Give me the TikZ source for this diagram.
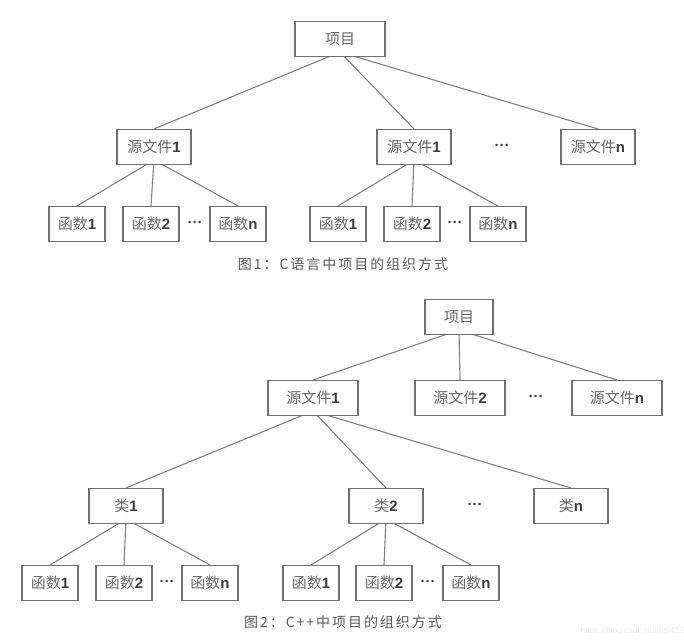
\documentclass[tikz,border=0pt]{standalone}
\usepackage{fontspec}
\setmainfont{Liberation Sans}
\newfontfamily\cjk{Noto Sans CJK SC}
\newfontfamily\capfont[LetterSpace=14]{Noto Sans CJK SC}
\usetikzlibrary{backgrounds}
\definecolor{boxgray}{HTML}{707070}
\definecolor{linegray}{HTML}{808080}
\definecolor{txtgray}{HTML}{3C3C3C}
\definecolor{cjkgray}{HTML}{666666}
\newcommand{\zh}[1]{{\cjk\mdseries\color{cjkgray}#1}}
\begin{document}
\begin{tikzpicture}[x=1pt,y=-1pt,
  box/.style={draw=boxgray,fill=white,line width=1.1pt,minimum height=35pt,inner sep=0pt,text=txtgray,font=\fontsize{15}{15}\selectfont\bfseries},
  src/.style={box,minimum width=74pt},
  cls/.style={box,minimum width=74pt},
  fn/.style={box,minimum width=56pt},
  dots/.style={text=txtgray,font=\fontsize{15}{15}\selectfont\bfseries},
  link/.style={draw=linegray,line width=1.1pt},
  caption/.style={text=txtgray!85,font=\capfont\fontsize{14}{14}\selectfont}]
\useasboundingbox (0,0) rectangle (684,642);
\node[box,minimum width=90pt] (p1) at (340,39) {\zh{项目}};
\node[src] (s1a) at (154,147) {\zh{源文件}1};
\node[src] (s1b) at (414,147) {\zh{源文件}1};
\node[dots] (d1) at (502,147) {···};
\node[src] (s1n) at (598,147) {\zh{源文件}n};
\node[fn] (f1a1) at (77,224) {\zh{函数}1};
\node[fn] (f1a2) at (151,224) {\zh{函数}2};
\node[dots] (d1a) at (195,224) {···};
\node[fn] (f1an) at (238,224) {\zh{函数}n};
\node[fn] (f1b1) at (338,224) {\zh{函数}1};
\node[fn] (f1b2) at (412,224) {\zh{函数}2};
\node[dots] (d1b) at (455,224) {···};
\node[fn] (f1bn) at (498,224) {\zh{函数}n};
\node[caption] (cap1) at (343,264) {图1：C语言中项目的组织方式};
\node[box,minimum width=68pt] (p2) at (459,317) {\zh{项目}};
\node[box,minimum width=90pt] (s2a) at (313,398) {\zh{源文件}1};
\node[box,minimum width=90pt] (s2b) at (460,398) {\zh{源文件}2};
\node[dots] (d2) at (536,398) {···};
\node[box,minimum width=90pt] (s2n) at (617,398) {\zh{源文件}n};
\node[cls] (c2a) at (126,506) {\zh{类}1};
\node[cls] (c2b) at (386,506) {\zh{类}2};
\node[dots] (d2c) at (475,506) {···};
\node[cls] (c2n) at (571,506) {\zh{类}n};
\node[fn] (f2a1) at (50,583) {\zh{函数}1};
\node[fn] (f2a2) at (124,583) {\zh{函数}2};
\node[dots] (d2a) at (167,583) {···};
\node[fn] (f2an) at (210,583) {\zh{函数}n};
\node[fn] (f2b1) at (311,583) {\zh{函数}1};
\node[fn] (f2b2) at (384,583) {\zh{函数}2};
\node[dots] (d2b) at (428,583) {···};
\node[fn] (f2bn) at (471,583) {\zh{函数}n};
\node[caption] (cap2) at (343,622) {图2：C++中项目的组织方式};
\node[anchor=west,text=black!8,font=\fontsize{8.5}{8.5}\selectfont] (mark) at (577,631) {https://blog.csdn.net/hsl416};
\begin{scope}[on background layer]
\draw[link] ([yshift=5pt]p1.south) -- (s1a.north) ([yshift=5pt]p1.south) -- (s1b.north) ([yshift=5pt]p1.south) -- (s1n.north);
\draw[link] ([yshift=5pt]s1a.south) -- (f1a1.north) ([yshift=5pt]s1a.south) -- (f1a2.north) ([yshift=5pt]s1a.south) -- (f1an.north);
\draw[link] ([yshift=5pt]s1b.south) -- (f1b1.north) ([yshift=5pt]s1b.south) -- (f1b2.north) ([yshift=5pt]s1b.south) -- (f1bn.north);
\draw[link] ([yshift=5pt]p2.south) -- (s2a.north) ([yshift=5pt]p2.south) -- (s2b.north) ([yshift=5pt]p2.south) -- (s2n.north);
\draw[link] ([yshift=5pt]s2a.south) -- (c2a.north) ([yshift=5pt]s2a.south) -- (c2b.north) ([yshift=5pt]s2a.south) -- (c2n.north);
\draw[link] ([yshift=5pt]c2a.south) -- (f2a1.north) ([yshift=5pt]c2a.south) -- (f2a2.north) ([yshift=5pt]c2a.south) -- (f2an.north);
\draw[link] ([yshift=5pt]c2b.south) -- (f2b1.north) ([yshift=5pt]c2b.south) -- (f2b2.north) ([yshift=5pt]c2b.south) -- (f2bn.north);
\end{scope}
\end{tikzpicture}
\end{document}
